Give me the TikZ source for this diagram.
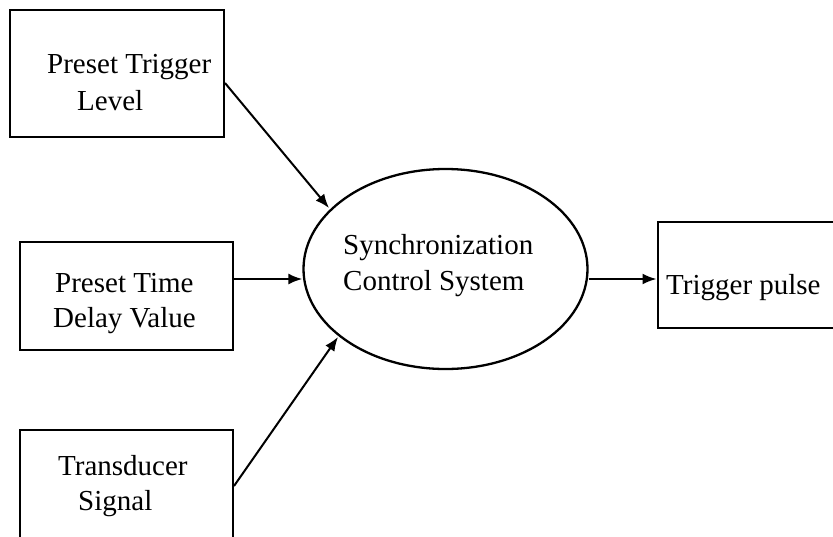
\documentclass[tikz,border=0pt]{standalone}
\usepackage{fontspec}
\setmainfont{Liberation Serif}
\usetikzlibrary{shapes.geometric,arrows.meta}
\begin{document}
\begin{tikzpicture}[x=1pt,y=-1pt,
  boxshape/.style={draw,line width=2pt,rectangle,inner sep=0pt},
  txt/.style={anchor=base west,inner sep=0pt,font=\fontsize{29}{36}\selectfont},
  conn/.style={line width=2pt,-{Latex[length=14pt,width=11pt]}}]
\useasboundingbox (0,0) rectangle (833,536);
\clip (0,0) rectangle (833,536);
% boxes
\node[boxshape,minimum width=214pt,minimum height=127pt] (b1) at (117,73.5) {};
\node[boxshape,minimum width=213pt,minimum height=108pt] (b2) at (126.5,296) {};
\node[boxshape,minimum width=213pt,minimum height=140pt] (b3) at (126.5,500) {};
\node[boxshape,minimum width=200pt,minimum height=106pt] (b4) at (757.5,275) {};
\node[draw,ellipse,line width=2.3pt,minimum width=284pt,minimum height=200pt,inner sep=0pt] (sys) at (445.5,269) {};
% texts
\node[txt] (t1a) at (47,73) {Preset Trigger};
\node[txt] (t1b) at (77,110) {Level};
\node[txt] (t2a) at (55,292) {Preset Time};
\node[txt] (t2b) at (53,327) {Delay Value};
\node[txt] (t3a) at (58,475) {Transducer};
\node[txt] (t3b) at (78,510) {Signal};
\node[txt] (ts1) at (343,254) {Synchronization};
\node[txt] (ts2) at (343,290) {Control System};
\node[txt] (t4) at (666,294) {Trigger pulse};
% connectors
\coordinate (a1s) at (224,83);
\coordinate (a1e) at (329,208);
\coordinate (a3s) at (234,486);
\coordinate (a3e) at (338,337);
\draw[conn] (b1.east |- a1s) -- (a1e);
\draw[conn] (b2.east |- 0,279) -- (sys.west |- 0,279);
\draw[conn] (b3.east |- a3s) -- (a3e);
\draw[conn] (sys.east |- 0,279) -- (b4.west |- 0,279);
\end{tikzpicture}
\end{document}
